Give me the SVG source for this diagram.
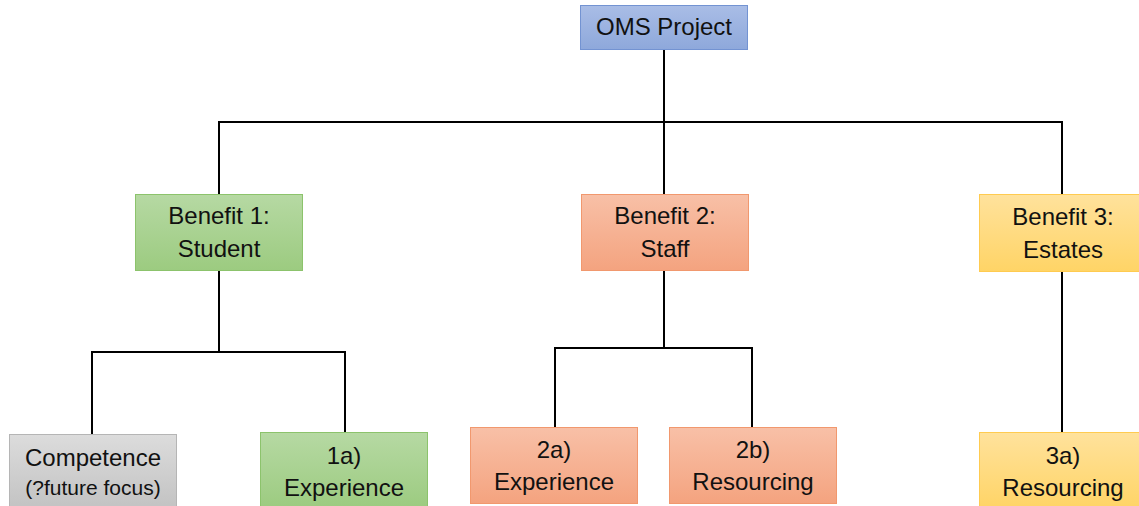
<svg xmlns="http://www.w3.org/2000/svg" width="1139" height="506" viewBox="0 0 1139 506">
<defs>
<linearGradient id="gBlue" x1="0" y1="0" x2="0" y2="1"><stop offset="0" stop-color="#A9BDE6"/><stop offset="1" stop-color="#8EA8DB"/></linearGradient>
<linearGradient id="gGreen" x1="0" y1="0" x2="0" y2="1"><stop offset="0" stop-color="#B6D9A3"/><stop offset="1" stop-color="#9CCB80"/></linearGradient>
<linearGradient id="gOrange" x1="0" y1="0" x2="0" y2="1"><stop offset="0" stop-color="#F8C0A7"/><stop offset="1" stop-color="#F4A37F"/></linearGradient>
<linearGradient id="gYellow" x1="0" y1="0" x2="0" y2="1"><stop offset="0" stop-color="#FFE29C"/><stop offset="1" stop-color="#FFD466"/></linearGradient>
<linearGradient id="gGray" x1="0" y1="0" x2="0" y2="1"><stop offset="0" stop-color="#DCDCDC"/><stop offset="1" stop-color="#C2C2C2"/></linearGradient>
</defs>
<style>
.box{stroke-width:1}
.blue{fill:url(#gBlue);stroke:#7393D2}
.green{fill:url(#gGreen);stroke:#8CC36C}
.orange{fill:url(#gOrange);stroke:#F1986E}
.yellow{fill:url(#gYellow);stroke:#FFCB50}
.gray{fill:url(#gGray);stroke:#B5B5B5}
text{font-family:"Liberation Sans",Arial,sans-serif;font-size:24px;fill:#111;text-anchor:middle}
.small{font-size:21px}
.conn{fill:none;stroke:#000;stroke-width:2}
</style>
<g id="connectors">
<path class="conn" d="M664 49V122M219 194V122H1062V194M664 122V194"/>
<path class="conn" d="M219 270V352M92 434V352H345V432"/>
<path class="conn" d="M664 270V348M555 427V348H752V427"/>
<path class="conn" d="M1062 271V432"/>
</g>
<g id="oms"><rect class="box blue" x="580.500" y="5.500" width="167" height="44"/><text x="664" y="35">OMS Project</text></g>
<g id="benefit1"><rect class="box green" x="135.500" y="194.500" width="167" height="76"/><text x="219" y="224">Benefit 1:</text><text x="219" y="257">Student</text></g>
<g id="benefit2"><rect class="box orange" x="581.500" y="194.500" width="167" height="76"/><text x="665" y="224">Benefit 2:</text><text x="665" y="257">Staff</text></g>
<g id="benefit3"><rect class="box yellow" x="979.500" y="194.500" width="167" height="77"/><text x="1063" y="225">Benefit 3:</text><text x="1063" y="258">Estates</text></g>
<g id="competence"><rect class="box gray" x="9.500" y="434.500" width="167" height="76"/><text x="93" y="466">Competence</text><text class="small" x="93" y="495">(?future focus)</text></g>
<g id="exp1a"><rect class="box green" x="260.500" y="432.500" width="167" height="76"/><text x="344" y="464">1a)</text><text x="344" y="496">Experience</text></g>
<g id="exp2a"><rect class="box orange" x="470.500" y="427.500" width="167" height="76"/><text x="554" y="458">2a)</text><text x="554" y="490">Experience</text></g>
<g id="res2b"><rect class="box orange" x="669.500" y="427.500" width="167" height="76"/><text x="753" y="458">2b)</text><text x="753" y="490">Resourcing</text></g>
<g id="res3a"><rect class="box yellow" x="979.500" y="432.500" width="167" height="76"/><text x="1063" y="464">3a)</text><text x="1063" y="496">Resourcing</text></g>
</svg>
